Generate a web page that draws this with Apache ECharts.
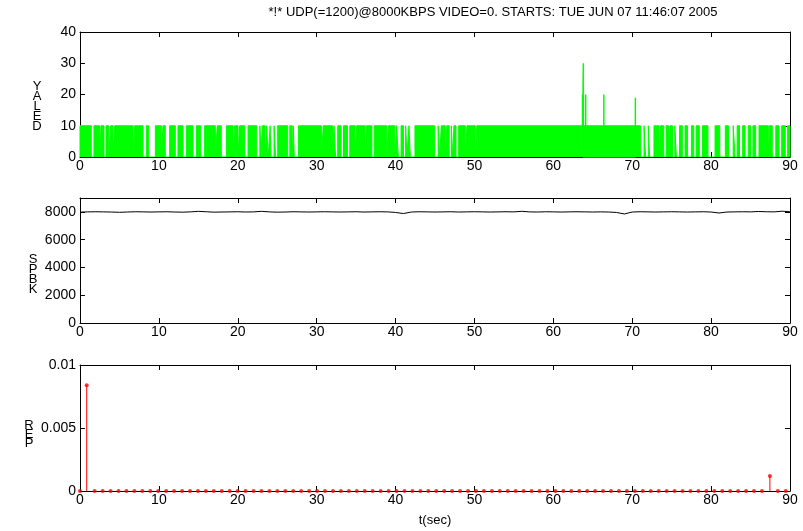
<!DOCTYPE html>
<html>
<head>
<meta charset="utf-8">
<script src="https://cdn.jsdelivr.net/npm/echarts@6/dist/echarts.min.js"></script>
<style>
  html, body { margin: 0; background: #fff; }
  #main { width: 803px; height: 531px; }
</style>
</head>
<body>
<div id="main"></div>
<script>
// delay: time spans (sec) where the trace toggles between 0 and ~10 ms
const delaySpans = [
  [0, 1.43], [1.77, 2.5], [2.66, 3.04], [3.3, 3.64], [3.89, 4.18], [4.4, 6.72], [6.93, 7.99],
  [8.4, 8.7], [9.55, 10.3], [10.52, 10.81], [11.37, 12.08], [12.42, 13.06], [13.47, 14.32],
  [14.74, 15.3], [15.8, 17.15], [17.4, 17.91], [18.55, 19.39], [19.6, 20.03], [20.24, 20.88],
  [21.3, 22.4], [22.8, 22.95], [23.1, 23.45], [23.66, 23.87], [24.1, 24.2], [24.6, 24.8],
  [25.06, 26.33], [26.6, 26.9], [27.04, 27.16], [27.7, 30.6], [30.84, 32], [32.2, 32.4],
  [32.67, 33.1], [33.4, 33.9], [34.2, 34.86], [35.07, 36.13], [36.3, 37], [37.3, 38.9],
  [39.1, 39.9], [40.14, 40.35], [40.7, 41], [41.28, 41.45], [41.7, 41.87], [42.46, 44.96],
  [45.4, 45.6], [45.8, 46.3], [46.5, 46.8], [47.07, 47.24], [47.4, 47.66], [48, 48.84],
  [49.05, 50.1], [50.3, 63.6], [63.85, 71.07], [71.5, 71.7], [72.04, 72.2], [72.76, 73.4],
  [73.6, 74], [74.3, 74.6], [74.8, 75.1], [75.4, 75.6], [76, 76.35], [76.7, 77], [77.5, 77.8],
  [78.1, 78.5], [78.9, 79.6], [80.5, 81.1], [81.8, 82.2], [82.8, 83.03], [83.3, 83.6],
  [84, 84.3], [84.7, 85], [85.3, 85.65], [86.07, 87.25], [87.4, 87.75], [88.2, 88.6],
  [88.95, 89.4], [89.7, 90]
];
const delayLevel = 10;
const delaySpikes = [[63.7, 20], [63.8, 30], [64.1, 20], [66.4, 20], [70.4, 19]];

// throughput, one value per second (t = 0..90)
const kbpsValues = [
  7980, 8000, 8010, 8000, 7990, 7970, 7990, 8010, 8000, 7990,
  8000, 8010, 7990, 7980, 8000, 8040, 8010, 7980, 7990, 8000,
  8010, 7990, 8000, 8040, 8000, 7980, 7990, 8010, 8000, 7990,
  8000, 8010, 8000, 7990, 8000, 8010, 7990, 8000, 8010, 8000,
  7960, 7880, 7990, 8010, 8000, 7990, 8000, 8010, 7990, 8000,
  8010, 8000, 7990, 8000, 8010, 8000, 8040, 8000, 7990, 8010,
  8000, 7990, 8000, 8010, 8000, 7990, 8000, 7990, 7960, 7850,
  7990, 8010, 8000, 7990, 8000, 8010, 8000, 7990, 8000, 8010,
  7990, 7920, 7990, 8000, 8010, 8000, 8030, 8010, 8000, 8050,
  8010
];

// packet error rate, sampled roughly once a second
const perStart = 0.85;
const perStep = 1.007;
const perValues = [
  0.0084, 0, 0, 0, 0, 0, 0, 0, 0, 0,
  0, 0, 0, 0, 0, 0, 0, 0, 0, 0,
  0, 0, 0, 0, 0, 0, 0, 0, 0, 0,
  0, 0, 0, 0, 0, 0, 0, 0, 0, 0,
  0, 0, 0, 0, 0, 0, 0, 0, 0, 0,
  0, 0, 0, 0, 0, 0, 0, 0, 0, 0,
  0, 0, 0, 0, 0, 0, 0, 0, 0, 0,
  0, 0, 0, 0, 0, 0, 0, 0, 0, 0,
  0, 0, 0, 0, 0, 0, 0.0012, 0, 0
];

const titleText = '*!* UDP(=1200)@8000KBPS VIDEO=0. STARTS: TUE JUN 07 11:46:07 2005';

const font = 'Liberation Sans, Arial, sans-serif';

// build series data
const delayData = [];
delaySpans.forEach(([a, b]) => {
  delayData.push([a, 0], [a, delayLevel], [b, delayLevel], [b, 0]);
});
const spikeData = [];
delaySpikes.forEach(([t, v]) => {
  spikeData.push([t, 0], [t, v], [t, 0]);
});
const kbpsData = kbpsValues.map((v, i) => [i, v]);
const perData = [[0, 0]].concat(perValues.map((v, i) => [perStart + i * perStep, v]));

const grids = [
  { left: 80, top: 32, width: 710, height: 125 },
  { left: 80, top: 198, width: 710, height: 125 },
  { left: 80, top: 365, width: 710, height: 126 }
];

const tick = { inside: true, length: 5, lineStyle: { color: '#000' } };
const line = { show: true, onZero: false, lineStyle: { color: '#000', width: 1 } };
const label = { color: '#000', fontSize: 14, fontFamily: font };

const xAxis = [];
const yAxis = [];
const yConf = [
  { min: 0, max: 40, interval: 10 },
  { min: 0, max: 9000, interval: 2000 },
  { min: 0, max: 0.01, interval: 0.005 }
];
grids.forEach((g, i) => {
  xAxis.push({
    type: 'value', gridIndex: i, min: 0, max: 90, interval: 10,
    axisLine: line, axisTick: tick, splitLine: { show: false },
    axisLabel: Object.assign({ margin: 2 }, label)
  });
  xAxis.push({
    type: 'value', gridIndex: i, min: 0, max: 90, interval: 10, position: 'top',
    axisLine: line, axisTick: tick, splitLine: { show: false }, axisLabel: { show: false }
  });
  yAxis.push({
    type: 'value', gridIndex: i, min: yConf[i].min, max: yConf[i].max, interval: yConf[i].interval,
    axisLine: line, axisTick: tick, splitLine: { show: false },
    axisLabel: Object.assign({
      margin: 4,
      showMaxLabel: i !== 1,
      formatter: v => (i === 1 && v > 8000) ? '' : String(v)
    }, label)
  });
  yAxis.push({
    type: 'value', gridIndex: i, min: yConf[i].min, max: yConf[i].max, interval: yConf[i].interval,
    position: 'right', axisLine: line, axisTick: tick, splitLine: { show: false },
    axisLabel: { show: false }
  });
});

const stacked = (s) => s.split('').join('\n');
const textEl = (x, y, text, opts) => ({
  type: 'text', x: x, y: y, silent: true,
  style: Object.assign({
    text: text, font: '13px ' + font, fill: '#000',
    align: 'center', verticalAlign: 'middle'
  }, opts || {})
});

const option = {
  animation: false,
  backgroundColor: '#fff',
  grid: grids,
  xAxis: xAxis,
  yAxis: yAxis,
  graphic: [
    textEl(493, 12, titleText, { font: '13px ' + font }),
    textEl(435, 520, 't(sec)', { font: '13px ' + font }),
    textEl(37, 106, stacked('YALED'), { lineHeight: 10, font: '13px ' + font }),
    textEl(33, 274, stacked('SPBK'), { lineHeight: 10, font: '13px ' + font }),
    textEl(29, 434, stacked('REP'), { lineHeight: 9, font: '13px ' + font })
  ],
  series: [
    {
      type: 'line', xAxisIndex: 0, yAxisIndex: 0, data: delayData,
      symbol: 'none', lineStyle: { color: '#00ff00', width: 1 },
      areaStyle: { color: '#00ff00', opacity: 1 }
    },
    {
      type: 'line', xAxisIndex: 0, yAxisIndex: 0, data: spikeData,
      symbol: 'none', lineStyle: { color: '#00ff00', width: 1.5 }
    },
    {
      type: 'line', xAxisIndex: 2, yAxisIndex: 2, data: kbpsData,
      symbol: 'none', smooth: false, lineStyle: { color: '#000', width: 1 }
    },
    {
      type: 'custom', xAxisIndex: 4, yAxisIndex: 4, data: perData,
      renderItem: (params, api) => {
        const v = api.value(1);
        if (!v) return null;
        const p0 = api.coord([api.value(0), 0]);
        const p1 = api.coord([api.value(0), v]);
        return {
          type: 'line',
          shape: { x1: p0[0], y1: p0[1], x2: p1[0], y2: p1[1] },
          style: { stroke: '#ff0000', lineWidth: 1 }
        };
      }
    },
    {
      type: 'scatter', xAxisIndex: 4, yAxisIndex: 4, data: perData,
      symbol: 'circle', symbolSize: 4, itemStyle: { color: '#ff0000' }
    }
  ]
};

const chart = echarts.init(document.getElementById('main'));
chart.setOption(option);
</script>
</body>
</html>
